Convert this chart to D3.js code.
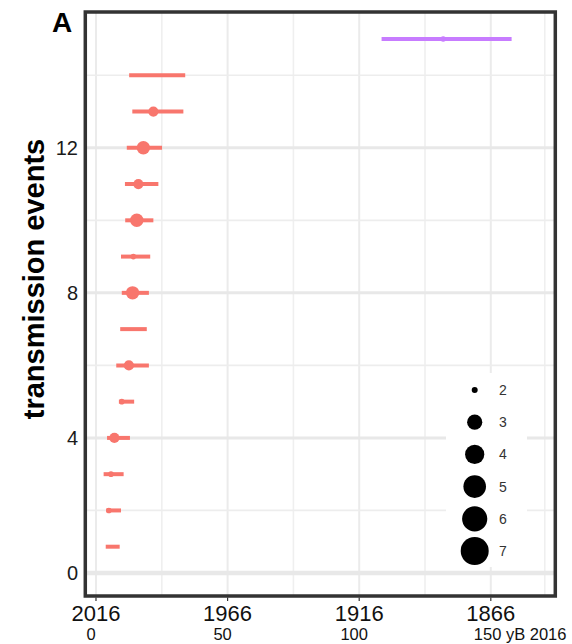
<!DOCTYPE html>
<html><head><meta charset="utf-8">
<script src="https://cdn.jsdelivr.net/npm/d3@7"></script>
<style>body{margin:0;background:#fff}svg{display:block}text{font-family:"Liberation Sans",Arial,Helvetica,sans-serif}</style>
</head><body><svg id="c" width="572" height="644"></svg>
<script>
// Data (x values in years before 2016)
const events    = [1, 2, 3, 4, 5, 6, 7, 8, 9, 10, 11, 12, 13, 14, 15];
const lower     = [3.7, 3.9, 2.9, 4.2, 8.7, 7.7, 9.2, 9.8, 9.5, 11.1, 11.0, 11.7, 13.8, 12.6, 108.5];
const upper     = [9.0, 9.5, 10.5, 12.9, 14.5, 20.1, 19.3, 20.1, 20.6, 21.8, 23.7, 25.1, 33.2, 33.9, 157.9];
const point     = [null, 4.9, 5.7, 7.0, 9.8, 12.5, null, 13.9, 14.2, 15.5, 16.1, 18.0, 21.8, null, 131.9];
const pointSize = [null, 2, 2, 3, 2, 3, null, 4, 2, 4, 3, 4, 3, null, 2];
const group     = ["a","a","a","a","a","a","a","a","a","a","a","a","a","a","b"];
const groupKeys = ["a", "b"];
const xMajor = [0, 50, 100, 150];
const xMinor = [25, 75, 125, 170.5];
const xTopLabels = ["2016", "1966", "1916", "1866"];
const xBottomLabels = ["0", "50", "100", "150 yB 2016"];
const yMajor = [0, 4, 8, 12];
const yMinor = [2, 6, 10, 14];
const yLabels = ["0", "4", "8", "12"];
const legendSizes = [2, 3, 4, 5, 6, 7];

const rows = events.map((e, i) => ({e, lo: lower[i], hi: upper[i], pt: point[i], s: pointSize[i], g: group[i]}));

const svg = d3.select("#c");
const L = 85.3, R = 555.3, T = 12, B = 596;
const x = d3.scaleLinear().domain([-4.06, 174.5]).range([L, R]);
const y = d3.scaleLinear().domain([0, 1, 15]).range([573, 546.7, 39]);
const color = d3.scaleOrdinal().domain(groupKeys).range(["#F8766D", "#C77CFF"]);
const rChart = d3.scaleLinear().domain([2, 3, 4]).range([2.8, 5.1, 6.7]);
const rLegend = d3.scaleLinear().domain([2, 3, 4, 5, 6, 7]).range([3, 7.6, 9.6, 11.3, 12.6, 14]);

// grid
const grid = svg.append("g");
grid.selectAll(".vmin").data(xMinor).join("line")
  .attr("x1", d => x(d)).attr("x2", d => x(d)).attr("y1", T).attr("y2", B)
  .attr("stroke", "#EFEFEF").attr("stroke-width", 1.6);
grid.selectAll(".vmaj").data(xMajor).join("line")
  .attr("x1", d => x(d)).attr("x2", d => x(d)).attr("y1", T).attr("y2", B)
  .attr("stroke", "#EBEBEB").attr("stroke-width", 2);
grid.selectAll(".hmin").data(yMinor).join("line")
  .attr("y1", d => y(d)).attr("y2", d => y(d)).attr("x1", L).attr("x2", R)
  .attr("stroke", "#EDEDED").attr("stroke-width", 1.7);
grid.selectAll(".hmaj").data(yMajor).join("line")
  .attr("y1", d => y(d)).attr("y2", d => y(d)).attr("x1", L).attr("x2", R)
  .attr("stroke", "#E8E8E8").attr("stroke-width", d => d === 0 ? 4.5 : 3);

// legend background
svg.append("rect").attr("x", 446).attr("y", 373).attr("width", 81).attr("height", 194).attr("fill", "#fff");

// error bars
svg.append("g").selectAll("line").data(rows).join("line")
  .attr("x1", d => x(d.lo)).attr("x2", d => x(d.hi))
  .attr("y1", d => y(d.e)).attr("y2", d => y(d.e))
  .attr("stroke", d => color(d.g)).attr("stroke-width", 4);
// points
svg.append("g").selectAll("circle").data(rows.filter(d => d.pt != null)).join("circle")
  .attr("cx", d => x(d.pt)).attr("cy", d => y(d.e)).attr("r", d => rChart(d.s))
  .attr("fill", d => color(d.g));

// legend
const lg = svg.append("g");
legendSizes.forEach((s, i) => {
  const cy = 390 + i * 32.2;
  lg.append("circle").attr("cx", 474.7).attr("cy", cy).attr("r", rLegend(s)).attr("fill", "#000");
  lg.append("text").attr("x", 499).attr("y", cy).attr("dy", "0.36em")
    .attr("font-size", 14).attr("fill", "#333").text(s);
});

// border
svg.append("rect").attr("x", L).attr("y", T).attr("width", R - L).attr("height", B - T)
  .attr("fill", "none").attr("stroke", "#333").attr("stroke-width", 3.5);

// x ticks
svg.append("g").selectAll("line").data(xMajor).join("line")
  .attr("x1", d => x(d)).attr("x2", d => x(d)).attr("y1", B + 1.5).attr("y2", B + 5)
  .attr("stroke", "#333").attr("stroke-width", 1.2);
svg.append("g").selectAll("text").data(xMajor).join("text")
  .attr("x", d => x(d)).attr("y", 621).attr("text-anchor", "middle")
  .attr("font-size", 22).attr("fill", "#111").text((d, i) => xTopLabels[i]);
svg.append("g").selectAll("text").data(xMajor).join("text")
  .attr("x", (d, i) => i === xMajor.length - 1 ? x(d) - 17 : x(d) - 5)
  .attr("y", 640)
  .attr("text-anchor", (d, i) => i === xMajor.length - 1 ? "start" : "middle")
  .attr("font-size", 16.5).attr("fill", "#111").text((d, i) => xBottomLabels[i]);

// y labels
svg.append("g").selectAll("text").data(yMajor).join("text")
  .attr("x", 78).attr("y", d => y(d)).attr("dy", "0.36em").attr("text-anchor", "end")
  .attr("font-size", 20).attr("fill", "#1a1a1a").text((d, i) => yLabels[i]);

// y title
svg.append("text").attr("transform", "translate(44,279) rotate(-90)")
  .attr("text-anchor", "middle").attr("font-size", 29).attr("font-weight", "bold")
  .attr("fill", "#000").text("transmission events");

// panel tag
svg.append("text").attr("x", 52).attr("y", 32).attr("font-size", 28).attr("font-weight", "bold")
  .attr("fill", "#000").text("A");
</script></body></html>
